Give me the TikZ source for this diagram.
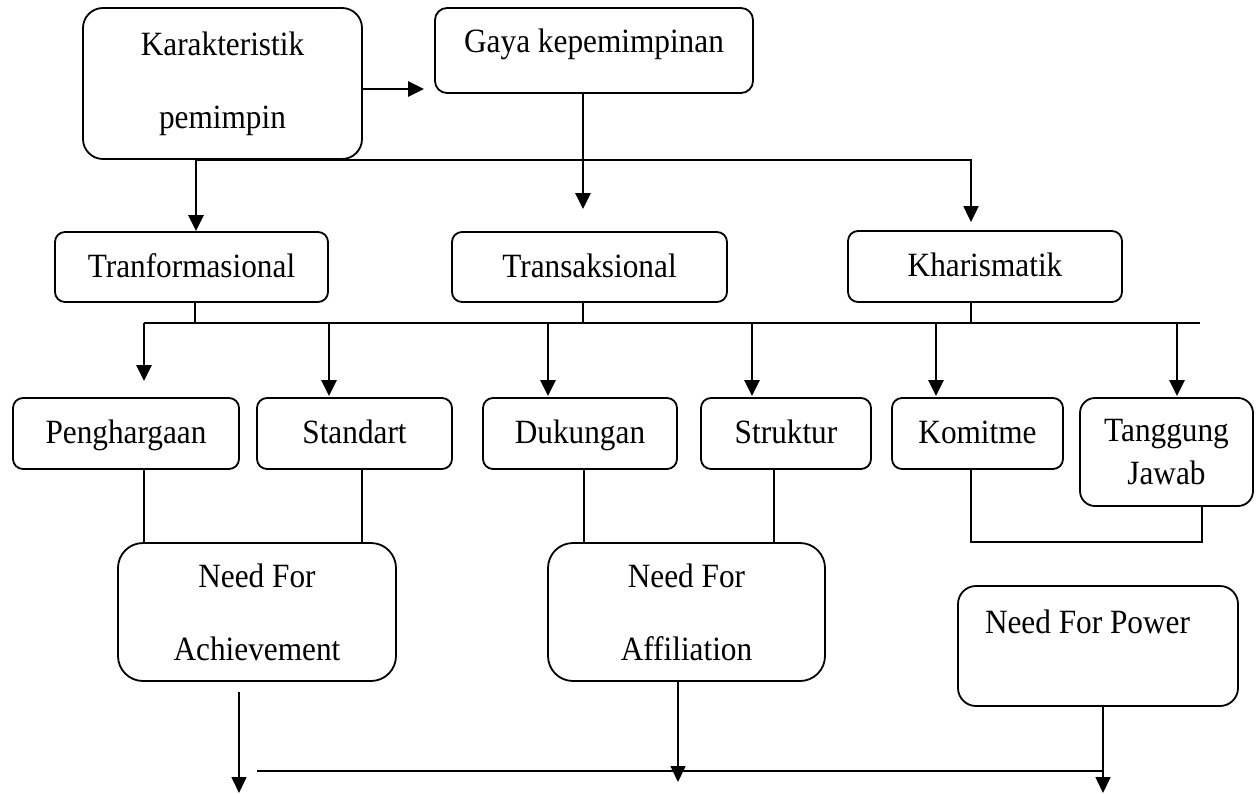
\documentclass[tikz,border=0pt]{standalone}
\usepackage{fontspec}
\setmainfont{Liberation Serif}[FakeStretch=0.92]
\usetikzlibrary{arrows.meta}
\begin{document}
\begin{tikzpicture}[x=1pt,y=-1pt,
  box/.style={draw,line width=1.8pt,rounded corners=10pt,inner sep=0pt,font=\fontsize{34}{36}\selectfont},
  one/.style={text height=22pt,text depth=2pt},
  arr/.style={line width=2.6pt,-{Triangle[length=16pt,width=15pt]}},
  thinline/.style={line width=1.6pt},
  bus/.style={line width=1.9pt}]
\useasboundingbox (0,0) rectangle (1257,794);
% level 1
\node[box,align=center,rounded corners=20pt,minimum width=279pt,minimum height=151pt] (kar) at (222.5,83.5) {Karakteristik\\[37pt]pemimpin};
\node[box,rounded corners=12pt,minimum width=318pt,minimum height=85pt,text height=22pt,text depth=18pt] (gaya) at (594,50.5) {Gaya kepemimpinan};
% level 2
\node[box,one,minimum width=273pt,minimum height=70pt] (trf) at (191.5,267) {Tranformasional};
\node[box,one,minimum width=275pt,minimum height=70pt] (tsk) at (589.5,267) {Transaksional};
\node[box,one,minimum width=274pt,minimum height=71pt] (kha) at (985,266.5) {Kharismatik};
% level 3
\node[box,one,minimum width=226pt,minimum height=71pt] (pen) at (126,433.5) {Penghargaan};
\node[box,one,minimum width=195pt,minimum height=71pt] (std) at (354.5,433.5) {Standart};
\node[box,one,minimum width=194pt,minimum height=71pt] (duk) at (580,433.5) {Dukungan};
\node[box,one,minimum width=170pt,minimum height=71pt] (str) at (786,433.5) {Struktur};
\node[box,one,minimum width=171pt,minimum height=71pt] (kom) at (977.5,433.5) {Komitme};
\node[box,align=center,rounded corners=15pt,minimum width=173pt,minimum height=108pt] (tgj) at (1166.5,452) {Tanggung\\[7pt]Jawab};
% level 4
\node[box,align=center,rounded corners=25pt,minimum width=278pt,minimum height=138pt] (ach) at (257,612) {Need For\\[37pt]Achievement};
\node[box,align=center,rounded corners=25pt,minimum width=277pt,minimum height=138pt] (aff) at (686.5,612) {Need For\\[37pt]Affiliation};
\node[box,rounded corners=18pt,minimum width=280pt,minimum height=120pt,text height=22pt,text depth=48pt] (pow) at (1098,646) {Need For Power\kern21pt};
% level 1 connectors
\coordinate (ka) at ([yshift=-5.5pt]kar.east);
\draw[arr,shorten >=10pt] (ka) -- (ka -| gaya.west);
\coordinate (k1) at ([xshift=-26.5pt]kar.south);
\draw[arr] (k1) -- (k1 |- trf.north);
\coordinate (kn) at ([xshift=-14pt]kha.north);
\draw[bus,-{Triangle[length=16pt,width=15pt]},shorten >=8pt] (k1) -- (kn |- k1) -- (kn);
\coordinate (gs) at ([xshift=-11pt]gaya.south);
\draw[arr,shorten >=22pt] (gs) -- (gs |- tsk.north);
% level 2 bus
\coordinate (b0) at (144,323);
\coordinate (b1) at (1200,323);
\coordinate (t1) at ([xshift=3.5pt]trf.south);
\coordinate (t2) at ([xshift=-6.5pt]tsk.south);
\coordinate (t3) at ([xshift=-14pt]kha.south);
\draw[thinline] (t1) -- (t1 |- b0);
\draw[thinline] (t2) -- (t2 |- b0);
\draw[thinline] (t3) -- (t3 |- b0);
\draw[bus] (b0) -- (b1);
\coordinate (s1) at ([xshift=-25.5pt]std.north);
\coordinate (s2) at ([xshift=-32pt]duk.north);
\coordinate (s3) at ([xshift=-34pt]str.north);
\coordinate (s4) at ([xshift=-41.5pt]kom.north);
\coordinate (s5) at ([xshift=10.5pt]tgj.north);
\draw[arr,shorten >=16pt] (b0) -- (b0 |- pen.north);
\draw[arr,shorten >=1pt] (s1 |- b0) -- (s1);
\draw[arr,shorten >=1pt] (s2 |- b0) -- (s2);
\draw[arr,shorten >=1pt] (s3 |- b0) -- (s3);
\draw[arr,shorten >=1pt] (s4 |- b0) -- (s4);
\draw[arr,shorten >=1pt] (s5 |- b0) -- (s5);
% level 3 to level 4
\coordinate (p1) at ([xshift=18pt]pen.south);
\coordinate (p2) at ([xshift=7.5pt]std.south);
\coordinate (p3) at ([xshift=4pt]duk.south);
\coordinate (p4) at ([xshift=-12pt]str.south);
\draw[thinline] (p1) -- (p1 |- ach.north);
\draw[thinline] (p2) -- (p2 |- ach.north);
\draw[thinline] (p3) -- (p3 |- aff.north);
\draw[thinline] (p4) -- (p4 |- aff.north);
\coordinate (m1) at ([xshift=-6.5pt]kom.south);
\coordinate (m2) at ([xshift=35.5pt]tgj.south);
\draw[thinline] (m1) -- (m1 |- ach.north) -- (m2 |- ach.north) -- (m2);
% bottom
\coordinate (a1) at ([xshift=-18pt]ach.south);
\coordinate (e1) at (239,793);
\draw[thinline,-{Triangle[length=16pt,width=15pt]},shorten <=10pt] (a1) -- (e1);
\coordinate (h0) at (257,771);
\coordinate (h1) at (1103,771);
\draw[thinline] (h0) -- (h1);
\coordinate (f1) at ([xshift=-8.5pt]aff.south);
\coordinate (e2) at (678,782);
\draw[thinline,-{Triangle[length=16pt,width=15pt]}] (f1) -- (e2);
\coordinate (w1) at ([xshift=5pt]pow.south);
\coordinate (e3) at (1103,793);
\draw[thinline,-{Triangle[length=16pt,width=15pt]}] (w1) -- (e3);
\end{tikzpicture}
\end{document}
